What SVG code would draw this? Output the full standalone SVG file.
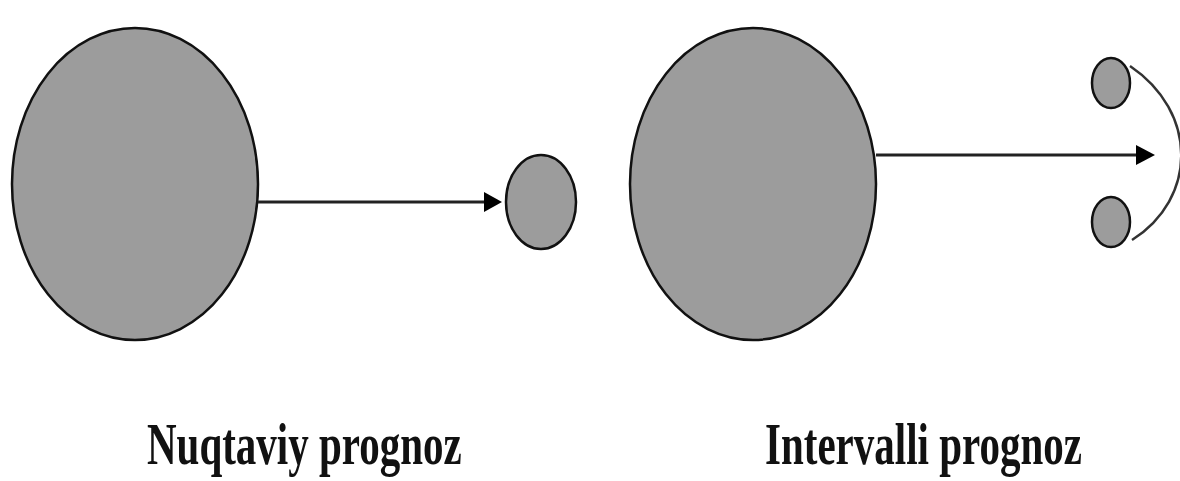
<svg xmlns="http://www.w3.org/2000/svg" width="1180" height="481" viewBox="0 0 1180 481">
<style>
.n{fill:#9c9c9c;stroke:#111;stroke-width:2.5}
.c{stroke:#222;stroke-width:3;fill:none}
.h{fill:#000}
.t{font-family:"Liberation Serif",serif;font-weight:bold;font-size:41px;fill:#111}
</style>
<rect width="1180" height="481" fill="#fff"/>
<g id="point-source"><ellipse class="n" cx="135" cy="184" rx="123" ry="156"/></g>
<g id="point-target"><ellipse class="n" cx="541" cy="202" rx="35" ry="47"/></g>
<g id="interval-source"><ellipse class="n" cx="753" cy="184" rx="123" ry="156"/></g>
<g id="interval-top"><ellipse class="n" cx="1111" cy="83" rx="19" ry="25"/></g>
<g id="interval-bottom"><ellipse class="n" cx="1111" cy="222" rx="19" ry="25"/></g>
<g id="connectors">
<line class="c" x1="258" y1="202" x2="488" y2="202"/>
<path class="h" d="M484,192 L502,202 L484,212 z"/>
<line class="c" x1="876" y1="155" x2="1140" y2="155"/>
<path class="h" d="M1136,145 L1155,155 L1136,165 z"/>
<path d="M1130,66 C1198,112 1198,198 1132,240" fill="none" stroke="#333" stroke-width="2.5"/>
</g>
<text class="t" transform="translate(147,464) scale(1,1.45)">Nuqtaviy prognoz</text>
<text class="t" transform="translate(765,464) scale(1,1.45)">Intervalli prognoz</text>
</svg>
